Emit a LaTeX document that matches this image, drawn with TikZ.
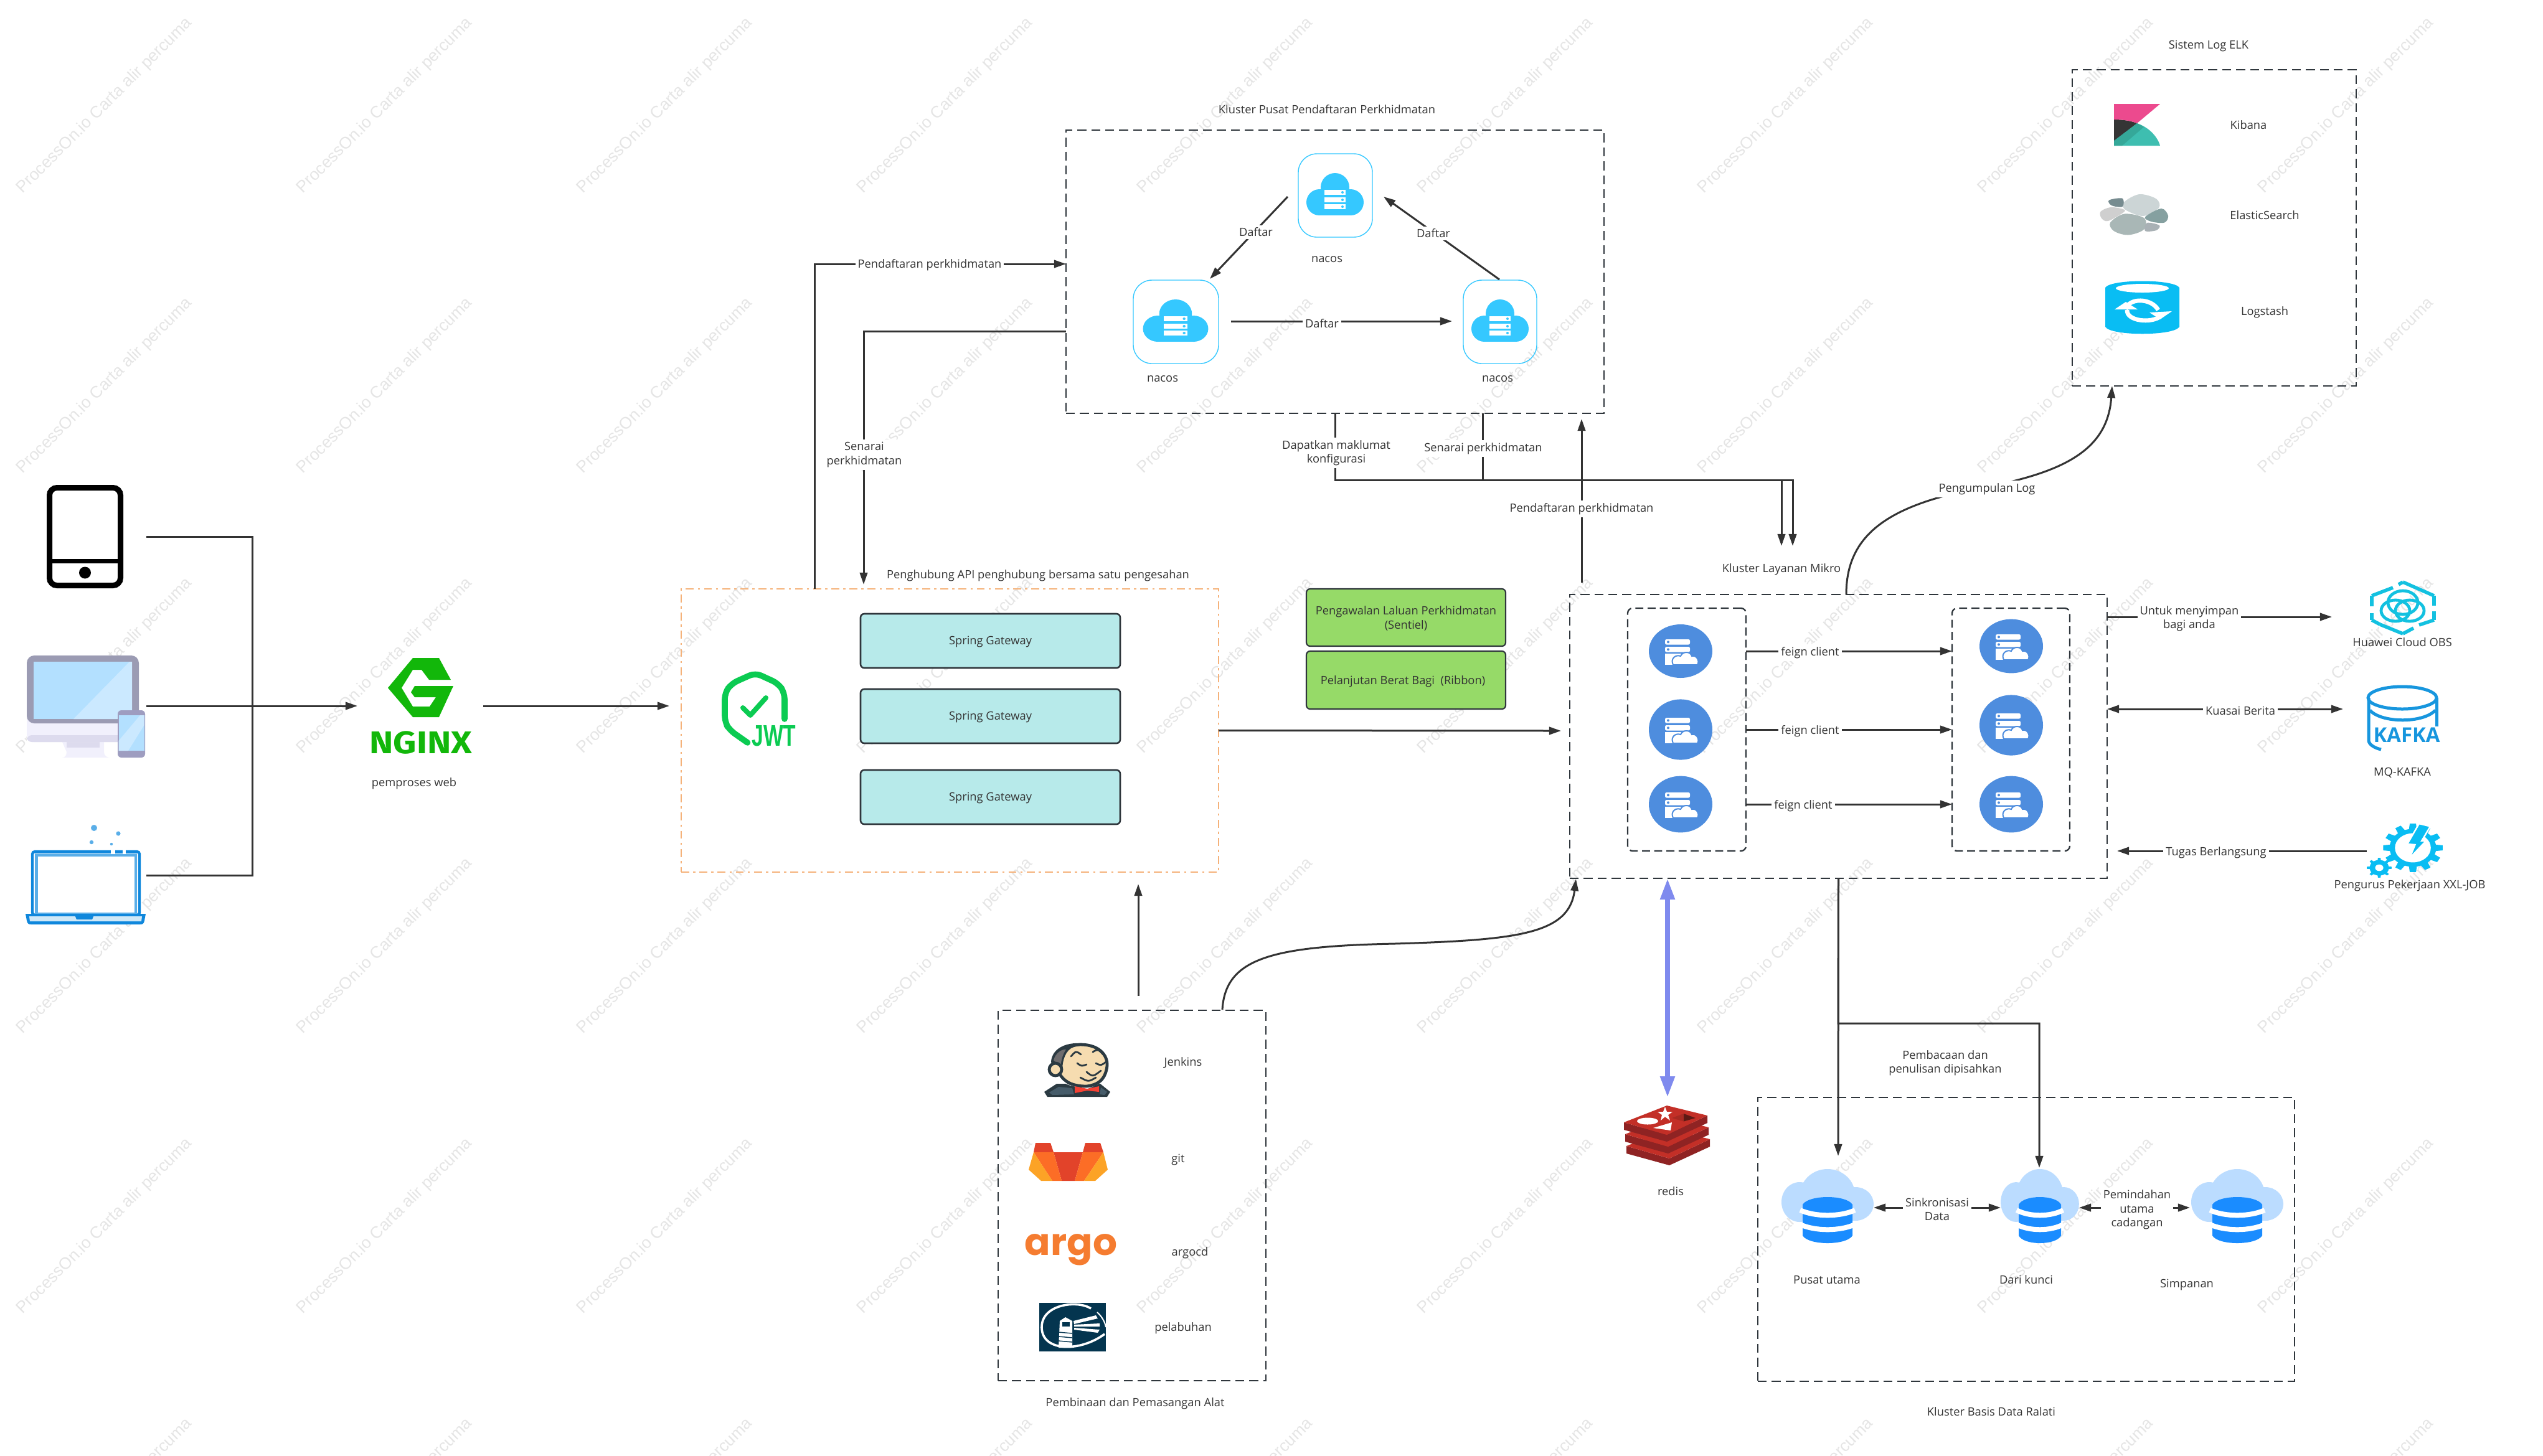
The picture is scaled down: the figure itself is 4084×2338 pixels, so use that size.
\documentclass[tikz,border=0pt]{standalone}
\usepackage{fontspec}
\setmainfont{Open Sans}
\newfontfamily\wmfont{Liberation Sans}
\newfontfamily\firafont{Fira Sans}
\newfontfamily\popfont{Poppins}
\newfontfamily\libfont{Liberation Sans}
\usetikzlibrary{arrows.meta,fit,shapes.geometric}
\definecolor{linec}{HTML}{333333}
\definecolor{boxc}{HTML}{2F363C}
\definecolor{nacosc}{HTML}{35C8FF}
\definecolor{svcc}{HTML}{4E8DDE}
\definecolor{ngx}{HTML}{12B70A}
\definecolor{jwtc}{HTML}{0BCB52}
\definecolor{dbc}{HTML}{1A8CFF}
\definecolor{dbl}{HTML}{BBDCFF}
\definecolor{skyc}{HTML}{09BDF3}
\definecolor{kafc}{HTML}{1796DE}
\definecolor{obsc}{HTML}{13C1E0}
\definecolor{orangeb}{HTML}{F5B27A}
\definecolor{gwc}{HTML}{B7EAEA}
\definecolor{greenc}{HTML}{96DA68}
\definecolor{purp}{HTML}{7F8AEE}
\definecolor{wmc}{HTML}{E5E5E5}
\tikzset{
  conn/.style={draw=linec,line width=.75pt,-{Triangle[length=4.8pt,width=3.1pt]}},
  conntwo/.style={draw=linec,line width=.75pt,{Triangle[length=4.8pt,width=3.1pt]}-{Triangle[length=4.8pt,width=3.1pt]}},
  connp/.style={draw=linec,line width=.75pt},
  txt/.style={font=\fontsize{4.58}{5.6}\selectfont,text=linec,align=center,inner sep=0pt,yshift=-.4pt},
  lab/.style={txt,fill=white,inner sep=1pt},
  dashbox/.style={draw=boxc,line width=.72pt,dash pattern=on 3.6pt off 2pt,inner sep=0pt,outer sep=0pt},
  innerbox/.style={draw=boxc,line width=.58pt,dash pattern=on 3.2pt off 1.7pt,rounded corners=2pt,inner sep=0pt,outer sep=0pt},
  orangebox/.style={draw=orangeb,line width=.7pt,dash pattern=on 3.2pt off 1.6pt on .9pt off 1.6pt,inner sep=0pt,outer sep=0pt},
  gwbox/.style={draw=boxc,fill=gwc,line width=.65pt,rounded corners=1.5pt,inner sep=0pt,outer sep=0pt},
  greenbox/.style={draw=boxc,fill=greenc,line width=.55pt,rounded corners=1.5pt,inner sep=0pt,outer sep=0pt},
  nacosbox/.style={draw=nacosc,line width=.35pt,rounded corners=7.5pt,inner sep=0pt,outer sep=0pt},
  spot/.style={inner sep=0pt,outer sep=0pt},
  svcball/.style={ellipse,fill=svcc,inner sep=0pt,outer sep=0pt,minimum width=25.5pt},
  wm/.style={font=\wmfont\fontsize{6.65}{7}\selectfont,text=wmc,rotate=45,inner sep=0pt}
}
\newcommand{\nacosCloud}[3]{%
\begin{scope}[shift={(#1,#2)},xscale=#3]
\fill[nacosc] (0,-12) circle[radius=23];
\fill[nacosc] (-25,12) circle[radius=21];
\fill[nacosc] (25,12) circle[radius=21];
\fill[nacosc] (-25,-9) rectangle (25,33);
\foreach \r in {-4,8,19}{
  \fill[white] (-17,\r-3.8) rectangle (17,\r+3.8);
  \fill[nacosc] (12,\r) circle[radius=2];
}
\end{scope}}
\newcommand{\svcIcon}[2]{%
\begin{scope}[shift={(#1,#2)}]
\fill[white,rounded corners=.6pt] (-25,-19) rectangle (15,-10.5);
\fill[white,rounded corners=.6pt] (-25,-7) rectangle (15,1.5);
\fill[svcc] (-20,-14.7) circle[radius=2];
\fill[svcc] (-20,-2.7) circle[radius=2];
\fill[white] (-25,4) rectangle (5,22);
\draw[svcc,line width=.5pt,fill=white] (-12,22) .. controls (-17,12) and (-8,5) .. (0,8) .. controls (3,0) and (16,0) .. (18,8) .. controls (26,6) and (31,16) .. (27,22) -- cycle;
\end{scope}}
\newcommand{\dbCloud}[3]{%
\begin{scope}[shift={(#1,#2)},xscale=#3]
\fill[dbl] (0,-18) ellipse[x radius=44,y radius=41];
\fill[dbl] (-45,-6) ellipse[x radius=29,y radius=32];
\fill[dbl] (45,-3) ellipse[x radius=29,y radius=27];
\fill[dbl] (-45,-10) rectangle (45,24);
\fill[dbc] (-40,-2) -- (-40,48) .. controls (-30,64) and (30,64) .. (40,48) -- (40,-2) .. controls (30,-18) and (-30,-18) .. (-40,-2) -- cycle;
\draw[white,line width=2pt] (-44,7) .. controls (-20,18) and (20,18) .. (44,7);
\draw[white,line width=2pt] (-44,30) .. controls (-20,41) and (20,41) .. (44,30);
\end{scope}}
\newcommand{\gearIcon}[6]{%
\begin{scope}[shift={(#1,#2)},xscale=#3,yscale=#4]
\fill[skyc] (0,0) circle[radius=.78];
\foreach \a in {0,#5,...,359}{
  \fill[skyc] (\a-11:.72) -- (\a-6:1) -- (\a+6:1) -- (\a+11:.72) -- cycle;
}
\fill[white] (0,0) circle[radius=#6];
\end{scope}}
\begin{document}
\begin{tikzpicture}[x=.25pt,y=-.25pt]
\useasboundingbox (0,0) rectangle (4084,2338);
% watermark
\foreach \cx in {168,618,1068,1518,1968,2418,2868,3318,3768}{
  \foreach \cy in {170,620,1070,1520,1970,2420}{
    \node[wm] (wm-\cx-\cy) at (\cx,\cy) {ProcessOn.io Carta alir percuma};
  }
}
% ---------- devices ----------
\draw[black,line width=2.25pt,rounded corners=3pt,fill=white] (79.5,783.5) rectangle (193.5,940.5);
\draw[black,line width=1.75pt] (79.5,901.5) -- (193.5,901.5);
\fill[black] (136.5,920) circle[radius=9.5];
\node[spot,fit={(75,779)(235,945)}] (tablet) {};
% monitor
\definecolor{monA}{HTML}{F1F0FC}
\definecolor{monB}{HTML}{DDDBEE}
\definecolor{monF}{HTML}{9B9BB3}
\definecolor{monS}{HTML}{B3E0FF}
\definecolor{monL}{HTML}{CBE9FF}
\definecolor{monP}{HTML}{9E9DC0}
\fill[white] (43,1053) rectangle (233,1217);
\fill[monA] (100,1192) -- (167,1192) -- (167,1208) .. controls (167,1214) and (172,1217) .. (176,1217) -- (100,1217) .. controls (104,1217) and (107,1214) .. (107,1208) -- cycle;
\fill[monB] (107,1192) rectangle (160,1201);
\fill[monA,rounded corners=3pt] (43,1120) rectangle (223,1192);
\fill[monB,rounded corners=2pt] (43,1181) rectangle (223,1192);
\fill[monF,rounded corners=3pt] (43,1053) rectangle (223,1162);
\fill[monS] (54,1063) rectangle (212,1155);
\fill[monL] (118,1155) -- (208,1063) -- (212,1063) -- (212,1155) -- cycle;
\fill[monP,rounded corners=1.5pt] (189,1141) rectangle (233,1217);
\fill[monS] (190.5,1149) rectangle (231.5,1206);
\fill[monL] (190.5,1190) -- (225,1149) -- (231.5,1149) -- (231.5,1165) -- (206,1206) -- (190.5,1206) -- cycle;
\node[spot,fit={(43,1053)(235,1215)}] (monitor) {};
% laptop
\definecolor{lapA}{HTML}{0F87DC}
\definecolor{lapB}{HTML}{5AAEE8}
\draw[lapA,line width=1.1pt,rounded corners=1pt,fill=white] (52,1368) rectangle (224,1470);
\draw[lapB,line width=1.1pt] (58.5,1373.5) rectangle (218,1468);
\fill[white] (178,1364) rectangle (185,1372);
\fill[white] (197,1364) rectangle (202,1372);
\fill[lapA] (41,1468) -- (234,1468) -- (232,1479) .. controls (231,1484) and (229,1485) .. (225,1485) -- (50,1485) .. controls (46,1485) and (44,1484) .. (43,1479) -- cycle;
\fill[color={rgb,255:red,207;green,232;blue,247}] (47,1472) -- (228,1472) -- (227,1480) -- (48,1480) -- cycle;
\fill[lapA] (120,1470) -- (151,1470) -- (148,1477) -- (123,1477) -- cycle;
\foreach \px/\py/\pr in {151/1330/5,190/1339/3.6,147/1353/3.2,179/1356/2.2}{
  \fill[lapB] (\px,\py) circle[radius=\pr];
}
\node[spot,fit={(50,1330)(235,1482)}] (laptop) {};
% nginx
\fill[ngx] (663,1057) -- (705,1057) -- (724,1092) -- (689,1092) -- (677,1076) -- (663,1076) -- (645,1105) -- (663,1135) -- (690,1135) -- (700,1120) -- (666,1120) -- (660,1112) -- (666,1102) -- (728,1102) -- (705,1152) -- (663,1152) -- (623,1105) -- cycle;
\node[spot,fit={(574,1050)(776,1218)}] (nginx) {};
\node[spot,font=\firafont\bfseries\fontsize{12.6}{13}\selectfont,text=ngx,xscale=1.15] (ngxtext) at (676,1193) {NGINX};
\node[txt] (ngxlab) at (665,1257) {pemproses web};
% device connectors
\coordinate (trunk) at (405,1134);
\draw[connp] (tablet.east) -| (trunk);
\draw[connp] (laptop.east) -| (trunk);
\draw[conn] (monitor.east) -- (nginx.west);
% ---------- gateway ----------
\node[orangebox,fit={(1094,946)(1957,1401)}] (gw) {};
\node[txt] (gwlab) at (1667,923) {Penghubung API penghubung bersama satu pengesahan};
\node[gwbox,fit={(1382,986)(1799,1073)}] (gw1) {};
\node[gwbox,fit={(1382,1107)(1799,1194)}] (gw2) {};
\node[gwbox,fit={(1382,1237)(1799,1324)}] (gw3) {};
\node[txt] (gw1t) at (gw1) {Spring Gateway};
\node[txt] (gw2t) at (gw2) {Spring Gateway};
\node[txt] (gw3t) at (gw3) {Spring Gateway};
\draw[jwtc,line width=2.4pt,line cap=round,rounded corners=2.5pt] (1260,1155) -- (1260,1113) -- (1250,1098) -- (1213,1081) -- (1175,1098) -- (1164,1113) -- (1164,1160) -- (1172,1173) -- (1200.5,1193);
\draw[jwtc,line width=2pt,line cap=round,line join=round] (1193,1137) -- (1205,1149) -- (1230,1121);
\node[spot,font=\libfont\bfseries\fontsize{12}{13}\selectfont,text=jwtc,xscale=.7] (jwttext) at (1243,1182) {JWT};
% ---------- registry ----------
\node[dashbox,fit={(1712,209)(2576,664)}] (reg) {};
\node[txt] (reglab) at (2131,174) {Kluster Pusat Pendaftaran Perkhidmatan};
\node[nacosbox,fit={(2085,247)(2204,381)}] (nacosT) {};
\node[nacosbox,fit={(1820,450)(1957,584)}] (nacosL) {};
\node[nacosbox,fit={(2350,450)(2468,584)}] (nacosR) {};
\nacosCloud{2144}{313}{1}
\nacosCloud{1888}{516}{1.14}
\nacosCloud{2409}{516}{1}
\node[txt] (nacosTl) at (2131,415) {nacos};
\node[txt] (nacosLl) at (1867,607) {nacos};
\node[txt] (nacosRl) at (2405,607) {nacos};
\coordinate (tlA) at (2068,316);
\coordinate (tlB) at (1943,448);
\coordinate (rtA) at (2408,449);
\coordinate (rtB) at (2222,316);
\coordinate (lrA) at (1977,516);
\coordinate (lrB) at (2332,516);
\draw[conn] (tlA) -- (tlB);
\draw[conn] (rtA) -- (rtB);
\draw[conn] (lrA) -- (lrB);
\node[lab] (d1) at (2017,371) {Daftar};
\node[lab] (d2) at (2302,373) {Daftar};
\node[lab] (d3) at (2123,518) {Daftar};
% gateway <-> registry
\coordinate (gwUp) at (1308,946);
\coordinate (regIn) at (1712,424);
\coordinate (regOut) at (1712,532);
\coordinate (gwTop) at (1387,939);
\draw[conn] (gwUp) |- (regIn);
\draw[conn] (regOut) -| (gwTop);
\node[lab] (pd1) at (1493,424) {Pendaftaran perkhidmatan};
\node[lab] (sp1) at (1388,729) {Senarai\\perkhidmatan};
% nginx -> gateway, gateway -> services
\coordinate (gwIn) at (1075,1134);
\draw[conn] (nginx.east) -- (gwIn);
% ---------- services ----------
\node[dashbox,fit={(2521,955)(3384,1411)}] (svc) {};
\node[txt] (svclab) at (2861,913) {Kluster Layanan Mikro};
\coordinate (svcIn) at (2507,1174);
\draw[conn] (gw.east) -- (svcIn);
\node[innerbox,fit={(2614,977)(2804,1367)}] (svcL) {};
\node[innerbox,fit={(3135,977)(3324,1367)}] (svcR) {};
\node[svcball,minimum height=21.5pt] (sl1) at (2699,1046) {};
\node[svcball,minimum height=24.3pt] (sl2) at (2699,1172) {};
\node[svcball,minimum height=22.7pt] (sl3) at (2699,1292) {};
\node[svcball,minimum height=21.7pt] (sr1) at (3230,1038) {};
\node[svcball,minimum height=24.3pt] (sr2) at (3230,1165) {};
\node[svcball,minimum height=22.7pt] (sr3) at (3230,1292) {};
\svcIcon{2699}{1046}\svcIcon{2699}{1172}\svcIcon{2699}{1292}
\svcIcon{3230}{1038}\svcIcon{3230}{1165}\svcIcon{3230}{1292}
\draw[conn] (svcL.east |- sl1) -- (svcR.west |- sl1);
\draw[conn] (svcL.east |- sl2) -- (svcR.west |- sl2);
\draw[conn] (svcL.east |- sl3) -- (svcR.west |- sl3);
\node[lab] (f1) at (2907,1047) {feign client};
\node[lab] (f2) at (2907,1173) {feign client};
\node[lab] (f3) at (2896,1293) {feign client};
% green boxes
\node[greenbox,fit={(2098,946)(2418,1038)}] (sentinel) {};
\node[greenbox,fit={(2098,1046)(2418,1139)}] (ribbon) {};
\node[txt] (sentinelT) at (2258,992) {Pengawalan Laluan Perkhidmatan\\(Sentiel)};
\node[txt] (ribbonT) at (2253,1093) {Pelanjutan Berat Bagi\ \ (Ribbon)};
% services <-> registry
\coordinate (regUpA) at (2540,936);
\coordinate (regUpB) at (2540,673);
\draw[conn] (regUpA) -- (regUpB);
\node[lab] (pd2) at (2540,816) {Pendaftaran perkhidmatan};
\coordinate (senTop) at (2381,664);
\coordinate (arrA) at (2861,877);
\coordinate (arrB) at (2879,877);
\coordinate (rowY) at (2381,771);
\draw[conn] (reg.south) |- (rowY) -| (arrB);
\draw[conn] (senTop) -- (rowY) -| (arrA);
\node[lab] (dm) at (2146,726) {Dapatkan maklumat\\konfigurasi};
\node[lab] (sp2) at (2382,719) {Senarai perkhidmatan};
% ---------- ELK ----------
\node[dashbox,fit={(3328,112)(3784,620)}] (elk) {};
\node[txt] (elklab) at (3547,72) {Sistem Log ELK};
% kibana
\fill[color={rgb,255:red,62;green,190;blue,176}] (3395,234) -- (3432,198) .. controls (3452,205) and (3465,220) .. (3469,234) -- cycle;
\fill[color={rgb,255:red,53;green,53;blue,53}] (3395,192) .. controls (3410,192) and (3422,194) .. (3432,198) -- (3395,228) -- cycle;
\fill[color={rgb,255:red,53;green,168;blue,153}] (3395,234) -- (3395,226) -- (3432,198) .. controls (3436,200) and (3440,202) .. (3443,204) -- (3408,234) -- cycle;
\fill[color={rgb,255:red,236;green,74;blue,142}] (3395,167) -- (3469,167) -- (3432,198) .. controls (3422,194) and (3410,192) .. (3395,192) -- cycle;
\node[txt] (kib) at (3611,199) {Kibana};
% elastic
\foreach \col/\pts in {
 CCD5D6/{(3412,324)(3436,312)(3463,319.5)(3467,334)(3441.5,347)(3412,336)},
 778C90/{(3387,321.6)(3408.5,318.7)(3408.5,332)(3391,330)},
 CFCFCF/{(3373.4,340)(3389.4,333)(3409.6,336)(3410.6,341)(3385.6,355)(3375,350.6)},
 A9B7B6/{(3389,357.6)(3412,343.5)(3444,350.6)(3442.5,369)(3417.5,377.5)(3394.7,371)},
 85A0A0/{(3445,348.5)(3471,335)(3482,346.5)(3476,357.6)(3455,356)},
 A9B1B5/{(3448,358)(3468,362)(3463,370)(3445,371)}}{
  \definecolor{stonec}{HTML}{\col}
  \fill[stonec] plot[smooth cycle,tension=.55] coordinates \pts;
}
\node[txt] (ela) at (3637,344) {ElasticSearch};
% logstash
\fill[skyc] (3381,462) .. controls (3390,448) and (3491,448) .. (3500,462) -- (3500,525) .. controls (3491,540) and (3390,540) .. (3381,525) -- cycle;
\fill[white] (3440.5,463) ellipse[x radius=42.5,y radius=7];
\draw[white,line width=1.7pt] (3414,497) .. controls (3418,478) and (3455,478) .. (3466,498);
\draw[white,line width=1.7pt] (3416,498) .. controls (3415,516) and (3455,520) .. (3470,508);
\fill[white] (3396,497) -- (3414,485) -- (3433,497) -- cycle;
\fill[white] (3452,502) -- (3488,500) -- (3469,513) -- cycle;
\node[txt] (log) at (3637,500) {Logstash};
% log curve
\coordinate (logA) at (2965,955);
\coordinate (logB) at (3392,620);
\draw[conn] (logA) .. controls (2965,860) and (3030,810) .. (3191,782) .. controls (3320,757) and (3385,720) .. (logB);
\node[lab] (lc) at (3191,784) {Pengumpulan Log};
% ---------- right column ----------
\foreach \ax/\ay/\bx/\by in {3859/935/3909/957,3909/957/3909/973,3909/982/3909/996,3909/996/3885/1004,3876/1009/3859/1018,3859/1018/3822/1003,3809/996/3809/985,3809/974/3809/957,3809/957/3843/944,3852/939/3859/935}{
  \draw[obsc,line width=1.4pt] (\ax,\ay) -- (\bx,\by);
}
\draw[obsc,line width=1.4pt] (3822,1003) -- (3809,996);
\draw[obsc,line width=1.2pt] (3859,968) ellipse[x radius=24,y radius=19];
\draw[obsc,line width=1.2pt] (3847,981) ellipse[x radius=23,y radius=17];
\draw[obsc,line width=1.2pt] (3870,981) ellipse[x radius=23,y radius=17];
\node[spot,fit={(3745,935)(3909,1047)}] (obs) {};
\node[txt] (obsl) at (3858,1030) {Huawei Cloud OBS};
\coordinate (obsOut) at (3384,991);
\coordinate (obsIn) at (3745,991);
\draw[conn] (obsOut) -- (obsIn);
\node[lab] (ut) at (3516,992) {Untuk menyimpan\\bagi anda};
% kafka
\draw[kafc,line width=1.25pt] (3858,1121) ellipse[x radius=55,y radius=18];
\draw[kafc,line width=1.25pt] (3806,1141) .. controls (3825,1162) and (3892,1162) .. (3911,1141);
\draw[kafc,line width=1.25pt] (3913,1121) -- (3913,1167);
\draw[kafc,line width=1.25pt] (3804,1121) -- (3804,1190) .. controls (3805,1197) and (3815,1202) .. (3824,1204);
\node[spot,font=\bfseries\fontsize{8.2}{9}\selectfont,text=kafc] (kaftxt) at (3865,1181) {KAFKA};
\node[txt] (kafl) at (3858,1240) {MQ-KAFKA};
\coordinate (kafA) at (3384,1139);
\coordinate (kafB) at (3763,1139);
\draw[conntwo] (kafA) -- (kafB);
\node[lab] (ku) at (3598,1140) {Kuasai Berita};
% xxl-job
\gearIcon{3875}{1362}{48}{39}{30}{.6}
\gearIcon{3821}{1394}{20}{16}{45}{.33}
\draw[white,line width=.6pt,fill=skyc] (3885,1323) -- (3903,1327.5) -- (3889,1351) -- (3896,1351) -- (3869.5,1379) -- (3878.5,1357) -- (3866,1356) -- cycle;
\node[txt] (xxl) at (3870,1421) {Pengurus Pekerjaan XXL-JOB};
\coordinate (xxlA) at (3801,1367);
\coordinate (xxlB) at (3400,1367);
\draw[conn] (xxlA) -- (xxlB);
\node[lab] (tu) at (3559,1368) {Tugas Berlangsung};
% ---------- tools ----------
\node[dashbox,fit={(1603,1623)(2033,2218)}] (tools) {};
\node[txt] (toolslab) at (1823,2253) {Pembinaan dan Pemasangan Alat};
\coordinate (toolUp) at (1828,1600);
\coordinate (gwDown) at (1828,1420);
\draw[conn] (toolUp) -- (gwDown);
\coordinate (curA) at (1963,1622);
\coordinate (curB) at (2531,1412);
\draw[conn] (curA) .. controls (1968,1540) and (2040,1520) .. (2240,1516) .. controls (2440,1510) and (2520,1500) .. (curB);
% jenkins
\definecolor{jkD}{HTML}{2B3A42}
\definecolor{jkJ}{HTML}{465C6A}
\definecolor{jkF}{HTML}{F6DCB0}
\fill[jkD] (1677,1754) -- (1697,1741) -- (1767,1741) -- (1783,1754) -- (1778,1762) -- (1682,1762) -- cycle;
\fill[jkJ] (1685,1755) -- (1700,1746) -- (1722,1748) -- (1725,1758) -- (1690,1759) -- cycle;
\fill[jkJ] (1768,1747) -- (1778,1754) -- (1774,1759) -- (1766,1758) -- cycle;
\fill[white] (1712,1742) -- (1745,1745) -- (1765,1741) -- (1745,1750) -- cycle;
\draw[jkD,line width=1.2pt,fill=jkF] (1700,1722) .. controls (1700,1695) and (1705,1680) .. (1735,1678) .. controls (1765,1678) and (1779,1695) .. (1778,1712) .. controls (1776,1728) and (1770,1742) .. (1745,1745) .. controls (1722,1745) and (1708,1738) .. (1700,1722) -- cycle;
\fill[jkD] (1688,1705) .. controls (1690,1685) and (1710,1674) .. (1738,1676) -- (1720,1684) .. controls (1708,1692) and (1706,1710) .. (1706,1720) -- (1692,1728) -- cycle;
\fill[color={rgb,255:red,110;green,108;blue,110}] (1692,1703) .. controls (1695,1692) and (1705,1685) .. (1712,1686) .. controls (1706,1694) and (1704,1706) .. (1703,1714) -- cycle;
\draw[jkD,line width=1.2pt,fill=jkF] (1695,1718) circle[radius=10];
\foreach \ax/\ay/\bx/\by/\cx/\cy in {1720/1697/1728/1688/1736/1694,1755/1690/1763/1685/1772/1694,1730/1708/1737/1713/1745/1710,1760/1708/1768/1712/1776/1706,1745/1722/1755/1730/1768/1720,1735/1731/1748/1738/1760/1731}{
  \draw[jkD,line width=.7pt,line cap=round] (\ax,\ay) .. controls (\bx,\by) .. (\cx,\cy);
}
\fill[color={rgb,255:red,244;green,65;blue,52}] (1726,1745) -- (1746,1749) -- (1765,1745) -- (1765,1754) -- (1746,1752) -- (1726,1756) -- cycle;
\node[spot,fit={(1677,1675)(1783,1762)}] (jenkins) {};
\node[txt] (jenl) at (1900,1706) {Jenkins};
% git
\definecolor{gitR}{HTML}{E2432A}
\definecolor{gitO}{HTML}{FC6D26}
\definecolor{gitY}{HTML}{FCA326}
\fill[gitR] (1663,1836) -- (1687,1836) -- (1692,1851) -- (1660,1851) -- cycle;
\fill[gitR] (1743,1836) -- (1767,1836) -- (1772,1851) -- (1739,1851) -- cycle;
\fill[gitR] (1692,1851) -- (1739,1851) -- (1726,1897) -- (1705,1897) -- cycle;
\fill[gitO] (1660,1851) -- (1692,1851) -- (1705,1897) -- (1690,1897) -- cycle;
\fill[gitO] (1739,1851) -- (1772,1851) -- (1741,1897) -- (1726,1897) -- cycle;
\fill[gitY] (1660,1851) -- (1690,1897) -- (1672,1897) -- (1652,1879) -- cycle;
\fill[gitY] (1772,1851) -- (1779,1879) -- (1759,1897) -- (1741,1897) -- cycle;
\node[spot,fit={(1652,1836)(1779,1897)}] (gitI) {};
\node[txt] (gitl) at (1892,1861) {git};
% argo
\node[spot,font=\popfont\bfseries\fontsize{15}{16}\selectfont,text={rgb,255:red,245;green,124;blue,48},xscale=1.02] (argoI) at (1720,2008) {argo};
\node[txt] (argol) at (1911,2011) {argocd};
% harbor
\definecolor{hbD}{HTML}{04354F}
\fill[hbD] (1669,2093) rectangle (1776,2171);
\draw[white,line width=.9pt] (1752,2102) .. controls (1730,2088) and (1672,2095) .. (1673,2133) .. controls (1674,2172) and (1735,2172) .. (1774,2143);
\draw[white,line width=.5pt] (1776,2132) .. controls (1775,2125) and (1770,2115) .. (1762,2108);
\fill[white] (1700,2165) -- (1702,2122) -- (1711,2116) -- (1722,2122) -- (1722,2165) -- cycle;
\fill[hbD] (1706,2124) rectangle (1718,2131);
\foreach \yy in {2140,2147,2154}{ \draw[hbD,line width=.35pt] (1700,\yy) -- (1722,\yy+2); }
\fill[white] (1724,2122) -- (1760,2113) -- (1763,2118) -- (1725,2127) -- cycle;
\fill[white] (1725,2128) -- (1766,2126) -- (1766,2131) -- (1725,2131) -- cycle;
\fill[white] (1725,2133) -- (1766,2136) -- (1763,2141) -- (1725,2136) -- cycle;
\node[spot,fit={(1669,2093)(1776,2171)}] (harbor) {};
\node[txt] (harl) at (1900,2132) {pelabuhan};
% ---------- redis ----------
\definecolor{rdD}{HTML}{8F2323}
\definecolor{rdT}{HTML}{C32F27}
\foreach \dx/\dy in {4/38,2/19,0/0}{
\begin{scope}[shift={(\dx,\dy)}]
\fill[rdD] (2608,1803) -- (2608,1815) -- (2677,1834) -- (2742,1804) -- (2742,1792) -- (2677,1823) -- cycle;
\fill[rdT] (2677,1776) -- (2742,1792) -- (2677,1823) -- (2608,1803) -- cycle;
\end{scope}}
\fill[white] (2674,1778) -- (2677,1786) -- (2686,1786) -- (2679,1791) -- (2682,1800) -- (2674,1794) -- (2667,1800) -- (2669,1791) -- (2662,1786) -- (2671,1786) -- cycle;
\fill[white] (2646,1801) ellipse[x radius=17,y radius=5.5];
\fill[white] (2655,1812) -- (2685,1803) -- (2683,1816) -- cycle;
\fill[color={rgb,255:red,168;green,42;blue,34}] (2685,1796) -- (2704,1789) -- (2704,1801.5) -- cycle;
\fill[color={rgb,255:red,94;green,26;blue,21}] (2704,1789) -- (2723,1796) -- (2704,1801.5) -- cycle;
\node[spot,fit={(2608,1776)(2746,1872)}] (redis) {};
\node[txt] (redl) at (2683,1912) {redis};
\coordinate (purA) at (2678,1411);
\coordinate (purB) at (2678,1763);
\draw[purp,line width=2pt,{Triangle[length=8.5pt,width=5.5pt]}-{Triangle[length=8.5pt,width=5.5pt]}] (purA) -- (purB);
% ---------- database ----------
\node[dashbox,fit={(2823,1763)(3685,2219)}] (db) {};
\node[txt] (dblab) at (3198,2266) {Kluster Basis Data Ralati};
\dbCloud{2935}{1937}{1}
\dbCloud{3276}{1937}{.85}
\dbCloud{3593}{1937}{1}
\node[spot,fit={(2861,1878)(3009,2002)}] (db1) {};
\node[spot,fit={(3213,1878)(3339,2002)}] (db2) {};
\node[spot,fit={(3517,1878)(3666,2002)}] (db3) {};
\node[txt] (db1l) at (2934,2054) {Pusat utama};
\node[txt] (db2l) at (3254,2054) {Dari kunci};
\node[txt] (db3l) at (3512,2062) {Simpanan};
\draw[conntwo] (db1.east) -- (db2.west);
\draw[conntwo] (db2.east) -- (db3.west);
\node[lab] (sk) at (3111,1941) {Sinkronisasi\\Data};
\node[lab] (pm) at (3432,1942) {Pemindahan\\utama\\cadangan};
\coordinate (rwA) at (2952,1857);
\coordinate (rwY) at (2952,1644);
\coordinate (rwB) at (3275,1876);
\draw[conn] (svc.south) -- (rwA);
\draw[conn] (svc.south) -- (rwY) -| (rwB);
\node[txt] (rw) at (3124,1706) {Pembacaan dan\\penulisan dipisahkan};
\end{tikzpicture}
\end{document}
